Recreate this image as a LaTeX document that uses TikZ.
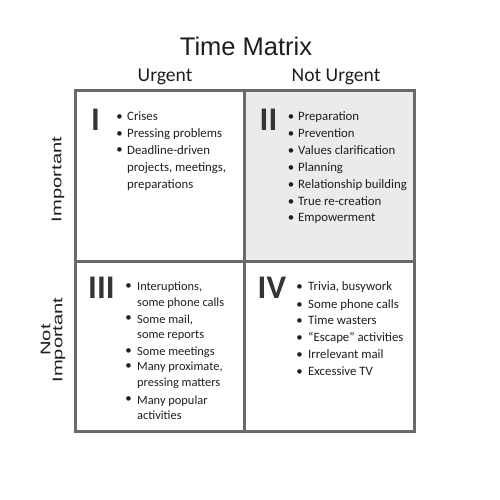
\documentclass[tikz,border=0pt]{standalone}
\usepackage{fontspec}
\usepackage{graphicx}
\newfontfamily\carl{Carlito}
\newfontfamily\libs{Liberation Sans}
\definecolor{tcol}{HTML}{1E1E1E}
\definecolor{gcol}{HTML}{6A6A6A}
\definecolor{fcol}{HTML}{EBEBEB}
\begin{document}
\begin{tikzpicture}[x=1pt,y=-1pt,
  txt/.style={font=\carl\fontsize{12.8}{14}\selectfont, text=tcol, inner sep=0pt, anchor=mid west},
  txtc/.style={txt, font=\carl\fontsize{12.4}{14}\selectfont},
  bul/.style={font=\carl\fontsize{12.8}{14}\selectfont, text=tcol, inner sep=0pt, anchor=mid},
  roman/.style={font=\carl\bfseries\fontsize{33}{38}\selectfont, text=tcol!90!white, inner sep=0pt, anchor=base west},
  head/.style={font=\carl\fontsize{19.6}{22}\selectfont, text=tcol, inner sep=0pt},
  side/.style={font=\libs\fontsize{14}{12}\selectfont, text=tcol, inner sep=0pt, rotate=90, align=center},
  gridline/.style={draw=gcol, line width=2.4pt}
]
\useasboundingbox (0,0) rectangle (500,500);
% quadrant II background
\fill[fcol] (244.5,90.5) rectangle (414.5,261.5);
% grid
\draw[gridline] (75.5,90.5) rectangle (414.5,431.5);
\draw[gridline] (244.5,90.5) -- (244.5,431.5);
\draw[gridline] (75.5,261.5) -- (414.5,261.5);

% title and headers
\node[font=\libs\fontsize{25.5}{28}\selectfont, text=tcol, inner sep=0pt] (title) at (246,46) {Time Matrix};
\node[head] (urg) at (165,77) {Urgent};
\node[head] (nurg) at (336,77) {Not Urgent};
\node[side] (imp) at (58,179.5) {\scalebox{1.44}[1]{Important}};
\node[side] (nimp) at (53,340) {\scalebox{1.44}[1]{Not}\\\scalebox{1.44}[1]{Important}};

% roman numerals
\node[roman] (r1) at (91,131) {I};
\node[roman] (r2) at (259.5,130) {II};
\node[roman] (r3) at (88,298) {III};
\node[roman] (r4) at (257.5,298) {IV};

% quadrant I
\node[bul] (b1a) at (119.5,118) {•};
\node[txt] (t1a) at (127,118) {Crises};
\node[bul] (b1b) at (119.5,135) {•};
\node[txt] (t1b) at (127,135) {Pressing problems};
\node[bul] (b1c) at (119.5,151) {•};
\node[txt] (t1c) at (127,152) {Deadline-driven};
\node[txt] (t1d) at (127,169) {projects, meetings,};
\node[txt] (t1e) at (127,186) {preparations};

% quadrant II
\node[bul] (b2a) at (291,118) {•};
\node[txt] (t2a) at (298,118) {Preparation};
\node[bul] (b2b) at (291,135) {•};
\node[txt] (t2b) at (298,135) {Prevention};
\node[bul] (b2c) at (291,152) {•};
\node[txt] (t2c) at (298,152) {Values clarification};
\node[bul] (b2d) at (291,169) {•};
\node[txt] (t2d) at (298,169) {Planning};
\node[bul] (b2e) at (291,186) {•};
\node[txt] (t2e) at (298,186) {Relationship building};
\node[bul] (b2f) at (291,203) {•};
\node[txt] (t2f) at (298,203) {True re-creation};
\node[bul] (b2g) at (291,219) {•};
\node[txt] (t2g) at (298,219) {Empowerment};

% quadrant III
\node[bul] (b3a) at (128.5,287) {•};
\node[txtc] (t3a) at (137,288) {Interuptions,};
\node[txtc] (t3b) at (137,304) {some phone calls};
\node[bul] (b3c) at (128.5,319) {•};
\node[txtc] (t3c) at (137,321) {Some mail,};
\node[txtc] (t3d) at (137,336) {some reports};
\node[bul] (b3e) at (128.5,352) {•};
\node[txtc] (t3e) at (137,353) {Some meetings};
\node[bul] (b3f) at (128.5,367) {•};
\node[txtc] (t3f) at (137,368) {Many proximate,};
\node[txtc] (t3g) at (137,384) {pressing matters};
\node[bul] (b3h) at (128.5,400) {•};
\node[txtc] (t3h) at (137,402) {Many popular};
\node[txtc] (t3i) at (137,417) {activities};

% quadrant IV
\node[bul] (b4a) at (299.5,288) {•};
\node[txt] (t4a) at (308,288) {Trivia, busywork};
\node[bul] (b4b) at (299.5,306) {•};
\node[txt] (t4b) at (308,306) {Some phone calls};
\node[bul] (b4c) at (299.5,322) {•};
\node[txt] (t4c) at (308,322) {Time wasters};
\node[bul] (b4d) at (299.5,339) {•};
\node[txt] (t4d) at (308,339) {“Escape” activities};
\node[bul] (b4e) at (299.5,356) {•};
\node[txt] (t4e) at (308,356) {Irrelevant mail};
\node[bul] (b4f) at (299.5,373) {•};
\node[txt] (t4f) at (308,373) {Excessive TV};
\end{tikzpicture}
\end{document}
